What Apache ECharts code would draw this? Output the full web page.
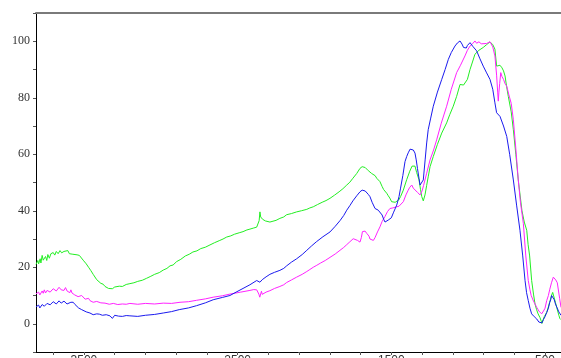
<!DOCTYPE html>
<html><head><meta charset="utf-8">
<script src="https://cdn.jsdelivr.net/npm/echarts@6/dist/echarts.min.js"></script>
<style>html,body{margin:0;padding:0;background:#fff;overflow:hidden}#c{width:561px;height:358px}</style>
</head><body><div id="c"></div>
<script>
const xLabelValues = [500, 1500, 2500, 3500];
const xTickValues = [500,700,900,1100,1300,1500,1700,1900,2100,2300,2500,2700,2900,3100,3300,3500,3700];
const yLabelValues = [0, 20, 40, 60, 80, 100];

const greenData = [[3812,21.0],[3800,22.4],[3795,21.2],[3785,23.0],[3780,21.5],[3772,24.2],[3765,22.5],[3750,23.8],[3742,22.4],[3735,24.5],[3725,23.2],[3715,24.8],[3700,25.2],[3690,24.3],[3680,25.6],[3668,24.8],[3656,25.9],[3645,25.1],[3630,25.6],[3618,24.9],[3605,25.9],[3595,24.8],[3585,25.3],[3572,24.6],[3560,25.3],[3545,24.4],[3530,24.2],[3505,22.5],[3485,21.2],[3470,20.0],[3455,18.8],[3440,17.5],[3428,16.8],[3417,15.6],[3405,15.2],[3390,14.3],[3375,14.0],[3363,13.2],[3350,13.4],[3340,12.5],[3330,13.1],[3315,12.4],[3300,13.0],[3287,12.6],[3270,13.3],[3250,13.2],[3225,13.9],[3201,14.2],[3175,14.5],[3150,15.0],[3120,15.4],[3092,16.1],[3065,16.8],[3040,17.5],[3010,18.1],[2984,19.0],[2960,19.6],[2940,20.5],[2920,20.8],[2897,22.0],[2870,22.8],[2840,24.0],[2815,24.6],[2791,25.4],[2765,25.8],[2740,26.6],[2710,27.1],[2680,27.9],[2650,28.7],[2620,29.4],[2595,30.0],[2571,30.7],[2545,31.1],[2520,31.7],[2490,32.2],[2465,32.6],[2440,33.2],[2420,33.5],[2395,33.9],[2376,34.2],[2365,34.8],[2360,36.5],[2355,39.6],[2350,37.8],[2345,38.2],[2338,37.0],[2333,37.3],[2320,36.4],[2310,36.6],[2290,36.0],[2270,36.3],[2250,36.6],[2225,37.3],[2200,37.8],[2181,38.6],[2150,39.0],[2116,39.6],[2085,40.0],[2050,40.5],[2030,41.0],[2008,41.4],[1980,42.2],[1950,43.0],[1925,43.6],[1899,44.4],[1870,45.5],[1840,46.7],[1815,47.8],[1790,49.1],[1770,50.1],[1750,51.5],[1725,53.2],[1704,55.0],[1690,55.6],[1682,55.9],[1670,55.3],[1660,55.0],[1650,54.2],[1639,53.8],[1628,53.2],[1617,53.3],[1605,52.4],[1595,51.5],[1585,50.8],[1574,50.3],[1560,48.6],[1550,47.5],[1540,46.9],[1530,46.2],[1520,45.3],[1510,44.5],[1498,43.2],[1485,43.5],[1475,43.0],[1465,43.2],[1452,43.8],[1440,45.0],[1422,47.3],[1400,51.0],[1380,54.0],[1365,55.8],[1357,56.2],[1346,55.8],[1335,53.5],[1320,51.0],[1310,47.5],[1302,45.0],[1292,43.5],[1281,45.6],[1270,49.0],[1260,52.0],[1248,55.6],[1227,59.2],[1200,63.5],[1172,67.5],[1140,71.1],[1120,74.0],[1097,77.0],[1075,80.5],[1053,84.7],[1040,85.0],[1030,84.5],[1021,84.1],[1005,86.5],[988,90.0],[970,93.0],[956,95.4],[930,96.8],[902,97.8],[880,98.8],[858,99.8],[848,99.6],[840,98.8],[826,97.2],[815,91.2],[805,90.8],[793,91.5],[780,90.6],[770,89.5],[760,87.7],[750,84.0],[739,80.5],[720,75.0],[706,68.7],[690,60.0],[674,50.9],[650,40.0],[635,36.0],[619,33.1],[610,28.0],[600,24.0],[587,15.3],[575,10.5],[565,7.0],[555,5.0],[545,3.5],[533,2.2],[525,1.0],[520,0.1],[512,1.5],[505,2.5],[489,4.0],[470,7.5],[458,10.0],[450,11.1],[440,10.5],[432,7.5],[424,5.8],[410,3.0],[403,1.8],[398,1.5]];

const magentaData = [[3812,10.6],[3802,10.0],[3795,11.2],[3787,10.2],[3780,10.4],[3772,11.6],[3765,10.8],[3758,12.0],[3750,10.9],[3740,11.8],[3730,12.2],[3720,11.2],[3710,11.5],[3700,12.4],[3690,12.5],[3680,11.6],[3670,11.9],[3662,12.9],[3656,13.2],[3648,12.0],[3640,12.4],[3630,11.8],[3620,12.8],[3610,11.6],[3600,11.8],[3592,11.0],[3585,12.0],[3578,10.9],[3570,11.1],[3560,10.2],[3550,10.6],[3538,9.6],[3526,9.4],[3515,10.0],[3505,9.6],[3492,8.7],[3480,8.6],[3470,9.0],[3461,8.2],[3440,7.6],[3417,7.9],[3390,7.4],[3363,7.3],[3335,6.9],[3309,7.2],[3280,6.8],[3250,7.0],[3225,6.9],[3201,7.2],[3150,6.9],[3100,7.2],[3040,7.0],[2984,7.3],[2930,7.2],[2875,7.6],[2820,7.8],[2767,8.3],[2710,8.8],[2659,9.4],[2600,9.9],[2550,10.5],[2480,11.2],[2420,11.8],[2395,12.1],[2376,12.0],[2366,11.4],[2362,10.5],[2356,9.4],[2350,10.0],[2345,11.5],[2340,10.4],[2333,10.3],[2315,11.2],[2290,11.7],[2260,12.5],[2225,13.2],[2200,13.8],[2181,14.6],[2150,15.5],[2116,16.5],[2080,17.5],[2050,18.5],[2030,19.2],[2008,20.0],[1985,20.7],[1960,21.5],[1930,22.4],[1899,23.5],[1865,24.7],[1834,26.0],[1810,27.0],[1790,28.0],[1770,29.0],[1748,30.1],[1735,30.5],[1720,29.5],[1710,29.2],[1704,28.9],[1695,30.5],[1688,32.6],[1682,33.3],[1671,32.8],[1660,32.0],[1650,31.9],[1645,31.0],[1639,30.0],[1628,29.3],[1617,29.5],[1606,30.5],[1590,32.5],[1574,34.3],[1560,36.2],[1541,38.0],[1525,39.7],[1509,40.8],[1490,41.0],[1465,41.4],[1450,41.6],[1440,42.0],[1422,43.2],[1405,45.6],[1390,47.3],[1380,48.3],[1367,49.1],[1357,48.0],[1346,47.3],[1330,46.5],[1313,45.6],[1300,47.0],[1290,49.0],[1270,53.3],[1248,58.0],[1225,61.5],[1205,65.1],[1175,71.0],[1140,77.0],[1110,83.0],[1075,88.9],[1050,91.5],[1021,94.8],[1005,96.8],[988,98.3],[970,99.2],[956,100.1],[945,99.3],[930,99.8],[915,99.1],[902,99.5],[880,99.2],[858,99.8],[848,99.3],[840,98.0],[826,94.8],[815,88.0],[808,82.0],[804,78.8],[800,82.0],[795,85.0],[788,88.9],[780,87.5],[770,86.5],[760,85.0],[749,84.1],[735,81.0],[720,78.0],[706,72.2],[690,62.0],[674,50.9],[660,43.0],[641,35.5],[625,24.0],[609,15.3],[598,12.0],[590,10.0],[575,8.0],[565,7.0],[554,5.8],[540,4.5],[530,3.8],[522,3.5],[510,4.5],[500,5.5],[489,8.2],[478,10.0],[470,12.0],[458,14.5],[446,16.5],[438,16.0],[430,15.5],[420,14.5],[414,14.1],[405,9.0],[396,5.8]];

const blueData = [[3812,6.0],[3802,5.4],[3795,6.6],[3787,5.6],[3780,5.8],[3772,6.8],[3765,7.0],[3758,6.2],[3750,6.5],[3740,7.2],[3730,7.5],[3720,6.7],[3710,7.0],[3700,7.8],[3690,7.9],[3680,7.0],[3670,7.2],[3662,8.1],[3656,8.2],[3648,7.3],[3640,7.4],[3630,8.0],[3620,7.8],[3610,7.0],[3600,7.3],[3585,7.6],[3570,7.6],[3558,6.8],[3545,6.5],[3535,5.6],[3526,5.2],[3515,5.0],[3505,4.6],[3485,4.2],[3461,3.8],[3440,3.2],[3417,3.5],[3400,3.4],[3380,3.0],[3355,3.2],[3331,2.8],[3315,1.9],[3300,3.0],[3275,2.7],[3250,2.6],[3225,2.9],[3201,2.8],[3150,2.6],[3100,3.0],[3040,3.3],[2984,3.8],[2930,4.3],[2880,5.0],[2820,5.6],[2767,6.4],[2710,7.4],[2659,8.5],[2600,9.3],[2550,10.0],[2510,11.2],[2465,12.5],[2420,13.8],[2376,15.3],[2365,15.0],[2355,14.7],[2348,15.4],[2340,15.6],[2315,16.6],[2290,17.5],[2260,18.2],[2225,18.9],[2200,19.6],[2181,20.5],[2150,21.8],[2116,23.0],[2080,24.5],[2050,26.0],[2020,27.5],[1988,29.0],[1945,30.8],[1899,32.5],[1865,34.5],[1834,36.5],[1810,38.3],[1790,40.2],[1770,41.8],[1750,43.5],[1725,45.3],[1704,46.7],[1690,47.3],[1682,47.6],[1670,47.0],[1660,46.5],[1650,45.8],[1639,45.0],[1625,43.0],[1606,40.8],[1595,40.6],[1585,40.2],[1572,39.5],[1560,38.5],[1550,37.0],[1541,36.0],[1530,36.3],[1520,36.7],[1510,37.0],[1500,37.5],[1485,39.5],[1465,42.0],[1450,45.0],[1440,48.0],[1425,52.5],[1411,57.4],[1400,59.2],[1390,60.5],[1378,61.8],[1367,62.2],[1357,61.5],[1346,60.4],[1338,58.0],[1330,55.0],[1320,51.5],[1313,49.1],[1302,49.5],[1292,50.9],[1280,58.0],[1270,64.0],[1260,68.7],[1245,72.5],[1227,77.0],[1200,82.0],[1172,86.5],[1150,90.0],[1129,93.6],[1110,96.0],[1086,98.3],[1070,99.4],[1053,100.1],[1040,99.0],[1030,97.8],[1021,97.2],[1012,97.6],[1005,98.5],[995,99.2],[988,99.5],[970,98.2],[945,96.6],[925,94.0],[902,91.2],[880,88.8],[858,86.5],[840,83.0],[826,78.2],[815,74.7],[805,74.0],[793,73.4],[770,70.0],[749,66.3],[730,60.0],[706,50.9],[685,42.0],[663,33.1],[645,24.0],[630,15.3],[620,11.0],[609,8.2],[598,5.5],[587,3.5],[570,2.5],[554,1.7],[540,0.6],[528,-0.1],[520,0.3],[510,1.5],[500,2.5],[489,4.0],[478,5.5],[470,7.5],[463,8.5],[457,10.0],[450,9.6],[440,8.5],[432,7.0],[424,6.4],[410,4.2],[403,3.5],[396,3.0]];

const chart = echarts.init(document.getElementById('c'), null, {renderer:'canvas'});
const mk = (data, color) => ({type:'line', data, showSymbol:false, symbol:'none', lineStyle:{color, width:1}, itemStyle:{color}, animation:false, xAxisIndex:0, yAxisIndex:0});
chart.setOption({
  backgroundColor:'#fff',
  animation:false,
  grid:{left:36, right:0, top:13, bottom:6, containLabel:false, outerBoundsMode:'none'},
  xAxis:[{
    type:'value', inverse:true, min:396, max:3812, position:'bottom',
    axisLine:{show:true, onZero:false, lineStyle:{color:'#000', width:1}},
    axisTick:{show:true, length:3, inside:false, customValues:xTickValues, lineStyle:{color:'#555'}},
    axisLabel:{show:true, customValues:xLabelValues, margin:3, color:'#333', fontSize:12, fontFamily:'Liberation Sans',
      formatter:(v)=>String(v)},
    splitLine:{show:false}
  },{
    type:'value', inverse:true, min:396, max:3812, position:'top',
    axisLine:{show:true, onZero:false, lineStyle:{color:'#7a7a7a', width:2}},
    axisTick:{show:false}, axisLabel:{show:false}, splitLine:{show:false}
  }],
  yAxis:{
    type:'value', min:-10, max:110, interval:10,
    axisLine:{show:true, onZero:false, lineStyle:{color:'#000', width:1}},
    axisTick:{show:true, length:3, lineStyle:{color:'#555'}},
    axisLabel:{margin:6, color:'#333', fontSize:12, fontFamily:'Liberation Serif',
      formatter:(v)=> yLabelValues.includes(v) ? String(v) : ''},
    splitLine:{show:false}
  },
  series:[mk(greenData,'#22ee22'), mk(magentaData,'#ff22ff'), mk(blueData,'#1a1aee')]
});
</script></body></html>
